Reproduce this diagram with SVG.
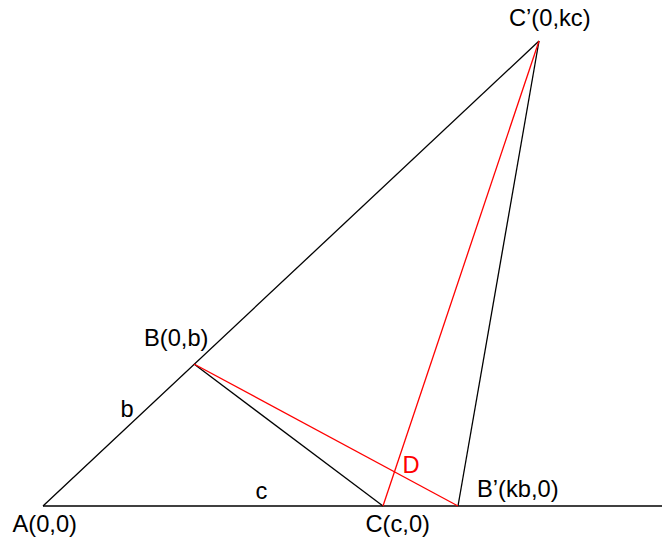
<svg xmlns="http://www.w3.org/2000/svg" width="662" height="541" viewBox="0 0 662 541">
<style>
.k{stroke:#000;stroke-width:1.3;fill:none}
.r{stroke:#f00;stroke-width:1.3;fill:none}
text{font-family:"Liberation Sans",Arial,sans-serif;font-size:23.7px;fill:#000}
.red{fill:#f00}
</style>
<rect width="662" height="541" fill="#fff"/>
<g id="connectors">
<line class="k" x1="43" y1="506" x2="662" y2="506"/>
<line class="k" x1="43" y1="506" x2="539" y2="41"/>
<line class="k" x1="194" y1="364" x2="383" y2="506"/>
<line class="k" x1="458" y1="506" x2="539" y2="41"/>
<line class="r" x1="194" y1="364" x2="458" y2="506"/>
<line class="r" x1="383" y1="506" x2="539" y2="41"/>
</g>
<g id="A"><text x="12.5" y="532">A(0,0)</text></g>
<g id="B"><text x="144" y="346">B(0,b)</text></g>
<g id="C"><text x="365.5" y="532">C(c,0)</text></g>
<g id="Bp"><text x="477" y="497">B’(kb,0)</text></g>
<g id="Cp"><text x="509" y="26">C’(0,kc)</text></g>
<g id="D"><text class="red" x="402.5" y="473">D</text></g>
<g id="lb"><text x="120.5" y="417">b</text></g>
<g id="lc"><text x="255.5" y="499">c</text></g>
</svg>
